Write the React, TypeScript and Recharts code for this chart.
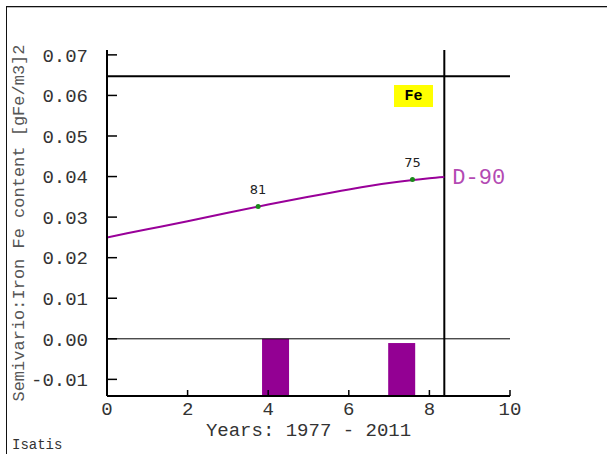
import React from 'react'
import {
  ComposedChart, Line, Bar, Scatter, XAxis, YAxis, ReferenceLine, LabelList,
} from 'recharts'

// variogram model curve (lag, value)
const modelLags = [0, 1, 2, 3, 4, 5, 6, 7, 8, 8.37]
const modelValues = [0.025, 0.027, 0.029, 0.0311, 0.0331, 0.035, 0.0368, 0.0384, 0.0396, 0.0399]

// experimental points and their pair counts
const expLags = [3.75, 7.58]
const expValues = [0.0326, 0.0393]
const expPairs = [81, 75]

// histogram of pairs (bar centres)
const barLags = [4.18, 7.31]

const xTicks = [0, 2, 4, 6, 8, 10]
const yTicks = [-0.01, 0, 0.01, 0.02, 0.03, 0.04, 0.05, 0.06, 0.07]

const sill = 0.0647
const maxLag = 8.37
const yMin = -0.0141
const yMax = 0.0712

const mono = '"Liberation Mono", "Courier New", monospace'

const maxPairs = Math.max(...expPairs)
const rows = [
  ...modelLags.map((x, i) => ({ x, model: modelValues[i] })),
  ...barLags.map((x, i) => ({ x, bar: [yMin, yMin + (expPairs[i] / maxPairs) * (0 - yMin)] })),
].sort((a, b) => a.x - b.x)

const points = expLags.map((x, i) => ({ x, y: expValues[i], n: expPairs[i] }))

const EndLabel = (props: any) => {
  const { x, y, index } = props
  if (index !== rows.length - 1 || x == null) return null
  return (
    <text x={x + 8} y={y + 7} fill="#b34ab3" fontFamily={mono} fontSize={22}>
      D-90
    </text>
  )
}

// histogram bars drawn a fixed 27px wide round their centre
const PairBar = (p: any) => {
  const w = 27
  return <rect x={p.x + p.width / 2 - w / 2} y={p.y} width={w} height={p.height} fill="#930093" />
}

export default function App() {
  return (
    <div style={{ position: 'absolute', left: 0, top: 0, width: 607, height: 454, background: '#fff', overflow: 'hidden' }}>
      <div style={{ position: 'absolute', left: 6, top: 6, width: 700, height: 600, borderLeft: '1px solid #111', borderTop: '1px solid #111', boxShadow: 'inset 0 1px 0 #bbb' }} />
      <div style={{ position: 'absolute', left: 0, top: 0 }}>
        <ComposedChart width={607} height={454} data={rows} margin={{ top: 50, right: 97, bottom: 0, left: 0 }}>
          <XAxis
            dataKey="x" type="number" domain={[0, 10]} ticks={xTicks} allowDataOverflow
            height={58} tickSize={-6} tickMargin={12}
            axisLine={{ stroke: '#000', strokeWidth: 2 }} tickLine={{ stroke: '#000', strokeWidth: 1.5 }}
            tick={{ fill: '#333', fontFamily: mono, fontSize: 19 }}
            label={{ value: 'Years: 1977 - 2011', position: 'insideBottom', offset: 18, fill: '#333', fontFamily: mono, fontSize: 19 }}
          />
          <XAxis
            xAxisId="t" orientation="top" dataKey="x" type="number" domain={[0, 10]} ticks={[2, 4, 6, 8]}
            height={0} tickSize={-9} tick={false}
            axisLine={{ stroke: '#000', strokeWidth: 2 }} tickLine={{ stroke: '#000', strokeWidth: 1.5 }}
          />
          <YAxis
            type="number" domain={[yMin, yMax]} ticks={yTicks} allowDataOverflow
            width={107} tickSize={-10} tickMargin={29}
            tickFormatter={(v: number) => v.toFixed(2)}
            axisLine={{ stroke: '#000', strokeWidth: 2 }} tickLine={{ stroke: '#000', strokeWidth: 1.5 }}
            tick={{ fill: '#333', fontFamily: mono, fontSize: 19 }}
            label={{ value: 'Semivario:Iron Fe content [gFe/m3]2', angle: -90, position: 'insideLeft', offset: 18, fill: '#555', fontFamily: mono, fontSize: 17, style: { textAnchor: 'middle' } }}
          />
          <YAxis
            yAxisId="r" orientation="right" type="number" domain={[yMin, yMax]} ticks={yTicks} allowDataOverflow
            width={0} tickSize={-7} tick={false}
            axisLine={{ stroke: '#000', strokeWidth: 2 }} tickLine={{ stroke: '#000', strokeWidth: 1.5 }}
          />
          <ReferenceLine y={0} stroke="#000" strokeWidth={1} />
          <ReferenceLine y={sill} stroke="#000" strokeWidth={2} />
          <ReferenceLine x={maxLag} stroke="#000" strokeWidth={2} />
          <Bar dataKey="bar" fill="#930093" shape={PairBar} isAnimationActive={false} />
          <Line
            dataKey="model" type="monotone" stroke="#990099" strokeWidth={2} dot={false}
            connectNulls isAnimationActive={false}
          >
            <LabelList dataKey="model" content={EndLabel} />
          </Line>
          <Scatter data={points} dataKey="y" fill="#1a8a1a" shape={(p: any) => <circle cx={p.cx} cy={p.cy} r={2.5} fill="#1a8a1a" />} isAnimationActive={false}>
            <LabelList dataKey="n" position="top" offset={8} fill="#222" fontFamily='"DejaVu Sans", sans-serif' fontSize={13} />
          </Scatter>
        </ComposedChart>
      </div>
      <div style={{ position: 'absolute', left: 394, top: 85, width: 39, height: 22, background: '#ffff00', display: 'flex', alignItems: 'center', justifyContent: 'center', fontFamily: mono, fontWeight: 'bold', fontSize: 15, color: '#000' }}>
        Fe
      </div>
      <div style={{ position: 'absolute', left: 12, top: 438, fontFamily: mono, fontSize: 14, lineHeight: '14px', color: '#333' }}>Isatis</div>
    </div>
  )
}
